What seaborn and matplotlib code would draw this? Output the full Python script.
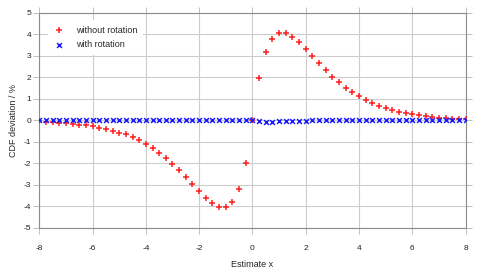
import numpy as np
import pandas as pd
import matplotlib
matplotlib.use("Agg")
import matplotlib.pyplot as plt
import seaborn as sns

# estimate grid, step 0.25 from -8 to 8
x_vals = np.arange(-8, 8.001, 0.25)

without_rotation = [
    -0.05, -0.07, -0.09, -0.11, -0.13, -0.16, -0.20, -0.24,
    -0.28, -0.34, -0.40, -0.49, -0.58, -0.66, -0.77, -0.93,
    -1.08, -1.28, -1.50, -1.75, -2.01, -2.32, -2.63, -2.95,
    -3.29, -3.61, -3.86, -4.05, -4.05, -3.78, -3.17, -1.99,
    0.00,
    1.97, 3.15, 3.79, 4.04, 4.04, 3.88, 3.62, 3.31,
    2.98, 2.67, 2.34, 2.03, 1.77, 1.52, 1.32, 1.12,
    0.96, 0.81, 0.68, 0.57, 0.48, 0.40, 0.34, 0.28,
    0.23, 0.19, 0.14, 0.12, 0.09, 0.08, 0.06, 0.05,
]

with_rotation = [0.0] * 32 + [
    0.0, -0.03, -0.06, -0.06, -0.05, -0.05, -0.03, -0.03, -0.02,
    -0.01, -0.01, 0.0, 0.0, 0.0, 0.0, 0.0, 0.0,
    0.0, 0.0, 0.0, 0.0, 0.0, 0.0, 0.0, 0.0,
    0.0, 0.0, 0.0, 0.0, 0.0, 0.0, 0.0, 0.0,
]

x_ticks = [-8, -6, -4, -2, 0, 2, 4, 6, 8]
y_ticks = [-5, -4, -3, -2, -1, 0, 1, 2, 3, 4, 5]

df = pd.DataFrame({
    "x": x_vals,
    "without": without_rotation,
    "with": with_rotation,
})

sns.set_style("whitegrid")
plt.rcParams["font.family"] = ["Liberation Sans", "DejaVu Sans"]
plt.rcParams["axes.unicode_minus"] = False

fig = plt.figure(figsize=(4.84, 2.73), dpi=100)
ax = fig.add_axes([0.0812, 0.165, 0.8806, 0.789])

sns.scatterplot(data=df, x="x", y="without", ax=ax, color="#ff2020",
                marker="+", s=15, linewidth=1.1, label="without rotation",
                zorder=3)
sns.scatterplot(data=df, x="x", y="with", ax=ax, color="#1a1aff",
                marker="x", s=12, linewidth=1.1, label="with rotation",
                zorder=4)

ax.set_xlim(-8, 8)
ax.set_ylim(-5, 5)
ax.set_xticks(x_ticks)
ax.set_yticks(y_ticks)
ax.set_xticklabels([str(t) for t in x_ticks])
ax.set_yticklabels([str(t) for t in y_ticks])

ax.grid(True, color="#cccccc", linewidth=0.8)
for sp in ax.spines.values():
    sp.set_color("#8c8c8c")
    sp.set_linewidth(0.8)
ax.tick_params(axis="both", which="both", direction="out", length=4,
               width=0.7, color="#c0c0c0", labelsize=6, labelcolor="#222222",
               top=True, right=True, bottom=True, left=True,
               labeltop=False, labelright=False)
ax.tick_params(axis="x", pad=8)
ax.tick_params(axis="y", pad=2)

ax.set_xlabel("Estimate x", fontsize=6.5, labelpad=6)
ax.set_ylabel("CDF deviation / %", fontsize=6.5, labelpad=4)

leg = ax.legend(loc="upper left", bbox_to_anchor=(0.01, 0.985), fontsize=6.5,
                frameon=True, framealpha=1, facecolor="white",
                edgecolor="white", handletextpad=1.2, borderpad=0.6,
                labelspacing=0.6, handlelength=1.3, markerscale=1.0)
leg.get_frame().set_linewidth(0)

fig.savefig("out.png", dpi=100)
